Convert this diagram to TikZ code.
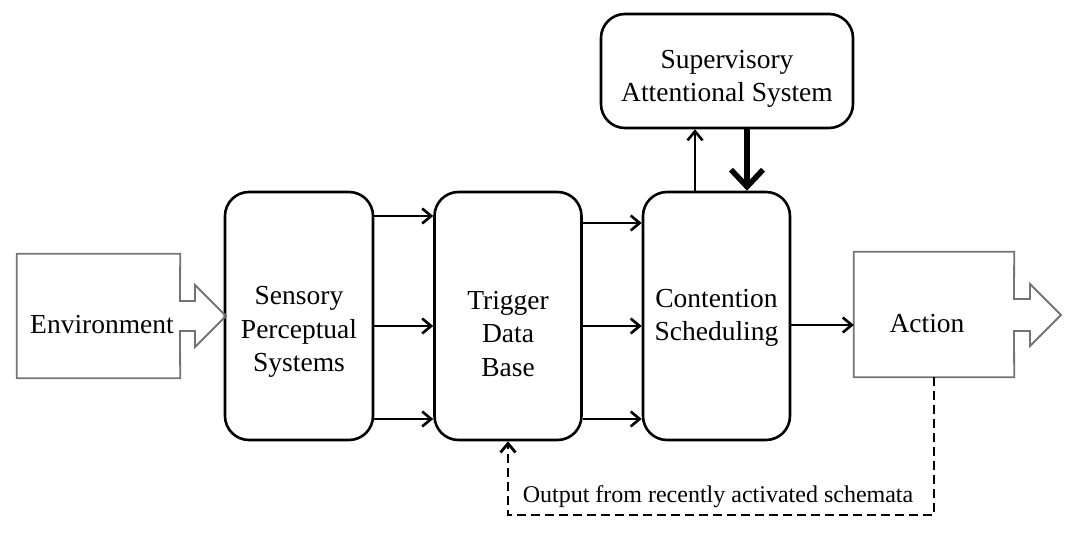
\documentclass[tikz,border=0pt]{standalone}
\usepackage{fontspec}
\setmainfont{Liberation Serif}
\usetikzlibrary{arrows.meta}
\begin{document}
\begin{tikzpicture}[x=1pt,y=-1pt,
  rbox/.style={draw=black, line width=2.6pt, rounded corners=24pt, fill=white, inner sep=0pt, align=center,
    font=\fontsize{27.5}{33.5}\selectfont},
  gbox/.style={draw=none, inner sep=0pt},
  goutline/.style={draw=black!55, line width=1.8pt, line join=miter},
  txt/.style={inner sep=0pt, align=center, font=\fontsize{27.5}{33.5}\selectfont},
  arr/.style={line width=2.6pt, -{Straight Barb[length=9pt,width=15pt]}},
  bigarr/.style={line width=5.5pt, -{Straight Barb[length=17pt,width=32pt]}},
  dasharr/.style={line width=2.8pt, dash pattern=on 9pt off 5pt, -{Straight Barb[length=9pt,width=15pt]}}
]
\useasboundingbox (0,0) rectangle (1080,540);
\fill[white] (0,0) rectangle (1080,540);

% boxes
\node[rbox, minimum width=148pt, minimum height=248pt] (sens) at (299,316) {};
\node[rbox, minimum width=147pt, minimum height=248pt] (trig) at (508,316) {};
\node[rbox, minimum width=147pt, minimum height=248pt] (cont) at (716.5,316) {};
\node[rbox, minimum width=252pt, minimum height=114pt] (sas) at (727,71) {};

\node[txt] (senstxt) at (299,332) {Sensory\\Perceptual\\Systems};
\node[txt] (trigtxt) at (508,334) {Trigger\\Data\\Base};
\node[txt] (conttxt) at (716.5,318) {Contention\\Scheduling};
\node[txt] (sastxt) at (727,79) {Supervisory\\Attentional System};

% environment and action (block arrows)
\node[gbox, minimum width=163pt, minimum height=124pt] (env) at (98.5,316) {};
\draw[goutline] (env.north west) -- (env.north east) -- (180,301) -- (195,301) -- (195,285)
  -- (226,316) -- (195,347) -- (195,331) -- (180,331) -- (env.south east) -- (env.south west) -- cycle;
\node[txt] (envtxt) at (102,325) {Environment};

\node[gbox, minimum width=160pt, minimum height=125pt] (act) at (934,314.5) {};
\draw[goutline] (act.north west) -- (act.north east) -- (1014,299) -- (1030,299) -- (1030,284)
  -- (1061,315) -- (1030,346) -- (1030,331) -- (1014,331) -- (act.south east) -- (act.south west) -- cycle;
\node[txt] (acttxt) at (927,324) {Action};

% arrows sensory -> trigger
\draw[arr] (sens.east |- 0,216) -- (trig.west |- 0,216);
\draw[arr] (sens.east |- 0,326) -- (trig.west |- 0,326);
\draw[arr] (sens.east |- 0,419) -- (trig.west |- 0,419);
% trigger -> contention
\draw[arr] (trig.east |- 0,223) -- (cont.west |- 0,223);
\draw[arr] (trig.east |- 0,326) -- (cont.west |- 0,326);
\draw[arr] (trig.east |- 0,419) -- (cont.west |- 0,419);
% contention -> action
\draw[arr] (cont.east |- 0,325) -- (act.west |- 0,325);
% contention <-> SAS
\draw[arr] (cont.north -| 695,0) -- (sas.south -| 695,0);
\draw[bigarr] (sas.south -| 747,0) -- (cont.north -| 747,0);

% feedback
\coordinate (c1) at (act.south |- 0,515);
\coordinate (c2) at (trig.south |- 0,515);
\draw[dasharr] (act.south) -- (c1) -- (c2) -- (trig.south);
\node[inner sep=0pt, font=\fontsize{24}{28}\selectfont] (fb) at (718,497) {Output from recently activated schemata};
\end{tikzpicture}
\end{document}
